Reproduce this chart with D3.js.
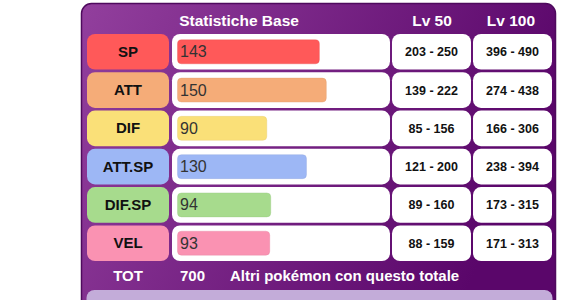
<!DOCTYPE html>
<html>
<head>
<meta charset="utf-8">
<script src="https://cdn.jsdelivr.net/npm/d3@7"></script>
<style>
  body { margin: 0; background: #fff; }
  svg { display: block; font-family: "Liberation Sans", Arial, sans-serif; }
</style>
</head>
<body>
<div id="chart"></div>
<script>
var stats = ["SP", "ATT", "DIF", "ATT.SP", "DIF.SP", "VEL"];
var values = [143, 150, 90, 130, 94, 93];
var lv50 = ["203 - 250", "139 - 222", "85 - 156", "121 - 200", "89 - 160", "88 - 159"];
var lv100 = ["396 - 490", "274 - 438", "166 - 306", "238 - 394", "173 - 315", "171 - 313"];
var colors = ["#ff5959", "#f5ac78", "#fae078", "#9db7f5", "#a7db8d", "#fa92b2"];
var headers = ["Statistiche Base", "Lv 50", "Lv 100"];
var total = 700;

var width = 580, height = 300;

var svg = d3.select("#chart").append("svg")
    .attr("width", width)
    .attr("height", height);

// background gradient
var grad = svg.append("defs").append("linearGradient")
    .attr("id", "bg")
    .attr("x1", "0%").attr("y1", "0%")
    .attr("x2", "100%").attr("y2", "30%");
grad.append("stop").attr("offset", "0%").attr("stop-color", "#923f9d");
grad.append("stop").attr("offset", "100%").attr("stop-color", "#5a066a");

svg.append("rect")
    .attr("x", 81.5).attr("y", 3.5)
    .attr("width", 474).attr("height", 310)
    .attr("rx", 10)
    .style("fill", "url(#bg)")
    .style("stroke", "#4f0a5e")
    .style("stroke-width", 1.5);

var y = d3.scaleBand()
    .domain(stats)
    .range([34, 261])
    .paddingInner(0.07);

var x = d3.scaleLinear()
    .domain([0, 255])
    .range([0, 253]);

// header
var headerX = [239, 432, 511];
svg.selectAll(".hdr")
    .data(headers)
    .enter()
    .append("text")
    .attr("class", "hdr")
    .attr("x", function(d, i){ return headerX[i]; })
    .attr("y", 25.5)
    .attr("text-anchor", "middle")
    .style("fill", "#fff")
    .style("font-weight", "bold")
    .style("font-size", "15.5px")
    .text(function(d){ return d; });

var rows = svg.selectAll(".row")
    .data(stats)
    .enter()
    .append("g")
    .attr("class", "row")
    .attr("transform", function(d){ return "translate(0," + y(d) + ")"; });

// stat name cell
rows.append("rect")
    .attr("x", 87).attr("y", 0)
    .attr("width", 82).attr("height", y.bandwidth())
    .attr("rx", 8)
    .style("fill", function(d, i){ return colors[i]; });

rows.append("text")
    .attr("x", 128)
    .attr("y", y.bandwidth() / 2 + 5)
    .attr("text-anchor", "middle")
    .style("font-weight", "bold")
    .style("font-size", "15px")
    .style("fill", "#111")
    .text(function(d){ return d; });

// bar cell
rows.append("rect")
    .attr("x", 172).attr("y", 0)
    .attr("width", 218).attr("height", y.bandwidth())
    .attr("rx", 8)
    .style("fill", "#fff");

rows.append("rect")
    .attr("x", 177.5)
    .attr("y", (y.bandwidth() - 24) / 2)
    .attr("width", function(d, i){ return x(values[i]); })
    .attr("height", 24)
    .attr("rx", 4)
    .style("fill", function(d, i){ return colors[i]; })
    .style("stroke", function(d, i){ return d3.color(colors[i]).darker(0.3); })
    .style("stroke-opacity", 0.35)
    .style("stroke-width", 1);

rows.append("text")
    .attr("x", 180)
    .attr("y", y.bandwidth() / 2 + 5.5)
    .style("font-size", "16px")
    .style("fill", "#333")
    .text(function(d, i){ return values[i]; });

// level cells
rows.append("rect")
    .attr("x", 392).attr("y", 0)
    .attr("width", 79).attr("height", y.bandwidth())
    .attr("rx", 8)
    .style("fill", "#fff");

rows.append("text")
    .attr("x", 431.5)
    .attr("y", y.bandwidth() / 2 + 4.5)
    .attr("text-anchor", "middle")
    .style("font-weight", "bold")
    .style("font-size", "12.5px")
    .style("fill", "#111")
    .text(function(d, i){ return lv50[i]; });

rows.append("rect")
    .attr("x", 473).attr("y", 0)
    .attr("width", 79).attr("height", y.bandwidth())
    .attr("rx", 8)
    .style("fill", "#fff");

rows.append("text")
    .attr("x", 512.5)
    .attr("y", y.bandwidth() / 2 + 4.5)
    .attr("text-anchor", "middle")
    .style("font-weight", "bold")
    .style("font-size", "12.5px")
    .style("fill", "#111")
    .text(function(d, i){ return lv100[i]; });

// total row
var totY = 281;
svg.append("text")
    .attr("x", 128).attr("y", totY)
    .attr("text-anchor", "middle")
    .style("fill", "#fff").style("font-weight", "bold").style("font-size", "15px")
    .text("TOT");
svg.append("text")
    .attr("x", 180).attr("y", totY)
    .style("fill", "#fff").style("font-weight", "bold").style("font-size", "15px")
    .text(total);
svg.append("text")
    .attr("x", 230).attr("y", totY)
    .style("fill", "#fff").style("font-weight", "bold").style("font-size", "15px")
    .text("Altri pokémon con questo totale");

// bottom box
svg.append("rect")
    .attr("x", 86.5).attr("y", 290)
    .attr("width", 466).attr("height", 30)
    .attr("rx", 8)
    .style("fill", "#c3acd9");
</script>
</body>
</html>
